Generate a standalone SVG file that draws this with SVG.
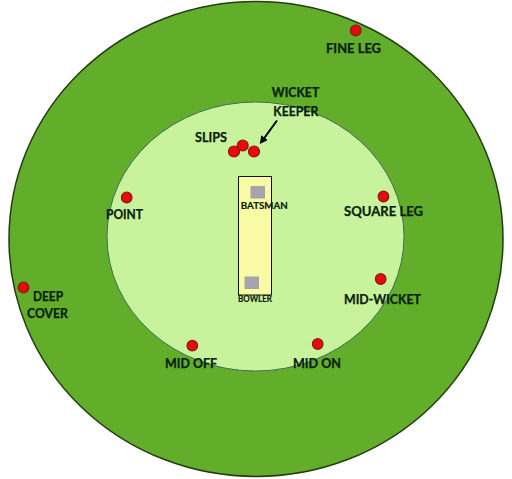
<svg xmlns="http://www.w3.org/2000/svg" width="512" height="479" viewBox="0 0 512 479">
<style>
.lbl{font-family:Lato,"Liberation Sans",sans-serif;font-weight:bold;font-size:12.5px;fill:#08200c;text-anchor:middle;stroke:#08200c;stroke-width:0.25}
.sm{font-size:9.2px;stroke-width:0.15}
.dot{fill:#e8080f;stroke:#8a1a10;stroke-width:1.2}
.sq{fill:#a5a3ad}
</style>
<defs>
<marker id="ah" markerWidth="8" markerHeight="8" refX="6" refY="4" orient="auto" markerUnits="userSpaceOnUse">
<path d="M0,0 L8,4 L0,8 z" fill="#000"/>
</marker>
</defs>
<rect width="512" height="479" fill="#fff"/>
<g id="outfield"><ellipse cx="256" cy="239" rx="247" ry="237.5" fill="#62ad2a" stroke="#223d12" stroke-width="1.5"/></g>
<g id="infield"><ellipse cx="255.5" cy="236.5" rx="148.5" ry="134.5" fill="#c8f39c" stroke="#3f6f5a" stroke-width="1"/></g>
<g id="pitch">
<rect x="238.5" y="176.5" width="33" height="118.5" fill="#f8fba4" stroke="#111" stroke-width="1"/>
</g>
<g id="batsman">
<rect class="sq" x="250.5" y="186" width="14.5" height="12.5"/>
<text class="lbl sm" x="264.3" y="208.5" textLength="47" lengthAdjust="spacingAndGlyphs">BATSMAN</text>
</g>
<g id="bowler">
<rect class="sq" x="244.5" y="276.5" width="14.5" height="12.5"/>
<text class="lbl sm" x="255" y="301.5" textLength="34" lengthAdjust="spacingAndGlyphs">BOWLER</text>
</g>
<g id="fine-leg">
<circle class="dot" cx="355.7" cy="30.5" r="5.3"/>
<text class="lbl" x="353.5" y="52.5" textLength="55" lengthAdjust="spacingAndGlyphs">FINE LEG</text>
</g>
<g id="wicket-keeper">
<circle class="dot" cx="254" cy="151.5" r="5.5"/>
<text class="lbl" x="295.5" y="96.7" textLength="47.5" lengthAdjust="spacingAndGlyphs">WICKET</text>
<text class="lbl" x="295.8" y="115.7" textLength="45" lengthAdjust="spacingAndGlyphs">KEEPER</text>
</g>
<g id="slips">
<circle class="dot" cx="234" cy="151.5" r="5.5"/>
<circle class="dot" cx="242.7" cy="145.5" r="5.5"/>
<text class="lbl" x="211" y="141.7" textLength="32" lengthAdjust="spacingAndGlyphs">SLIPS</text>
</g>
<g id="point">
<circle class="dot" cx="126.7" cy="197.5" r="5.3"/>
<text class="lbl" x="124.5" y="219.3" textLength="37" lengthAdjust="spacingAndGlyphs">POINT</text>
</g>
<g id="square-leg">
<circle class="dot" cx="383.5" cy="196.5" r="5.3"/>
<text class="lbl" x="383.5" y="216.3" textLength="79" lengthAdjust="spacingAndGlyphs">SQUARE LEG</text>
</g>
<g id="mid-wicket">
<circle class="dot" cx="380.7" cy="279" r="5.3"/>
<text class="lbl" x="382.5" y="304.3" textLength="77" lengthAdjust="spacingAndGlyphs">MID-WICKET</text>
</g>
<g id="deep-cover">
<circle class="dot" cx="23.5" cy="287.5" r="5.3"/>
<text class="lbl" x="48" y="300.7" textLength="30" lengthAdjust="spacingAndGlyphs">DEEP</text>
<text class="lbl" x="47.5" y="318.3" textLength="41" lengthAdjust="spacingAndGlyphs">COVER</text>
</g>
<g id="mid-off">
<circle class="dot" cx="192.3" cy="345.7" r="5.3"/>
<text class="lbl" x="191" y="367.5" textLength="52" lengthAdjust="spacingAndGlyphs">MID OFF</text>
</g>
<g id="mid-on">
<circle class="dot" cx="317.7" cy="344" r="5.3"/>
<text class="lbl" x="317" y="367.5" textLength="48" lengthAdjust="spacingAndGlyphs">MID ON</text>
</g>
<g id="connectors">
<line x1="277" y1="120.5" x2="261" y2="142.5" stroke="#000" stroke-width="2" marker-end="url(#ah)"/>
</g>
</svg>
